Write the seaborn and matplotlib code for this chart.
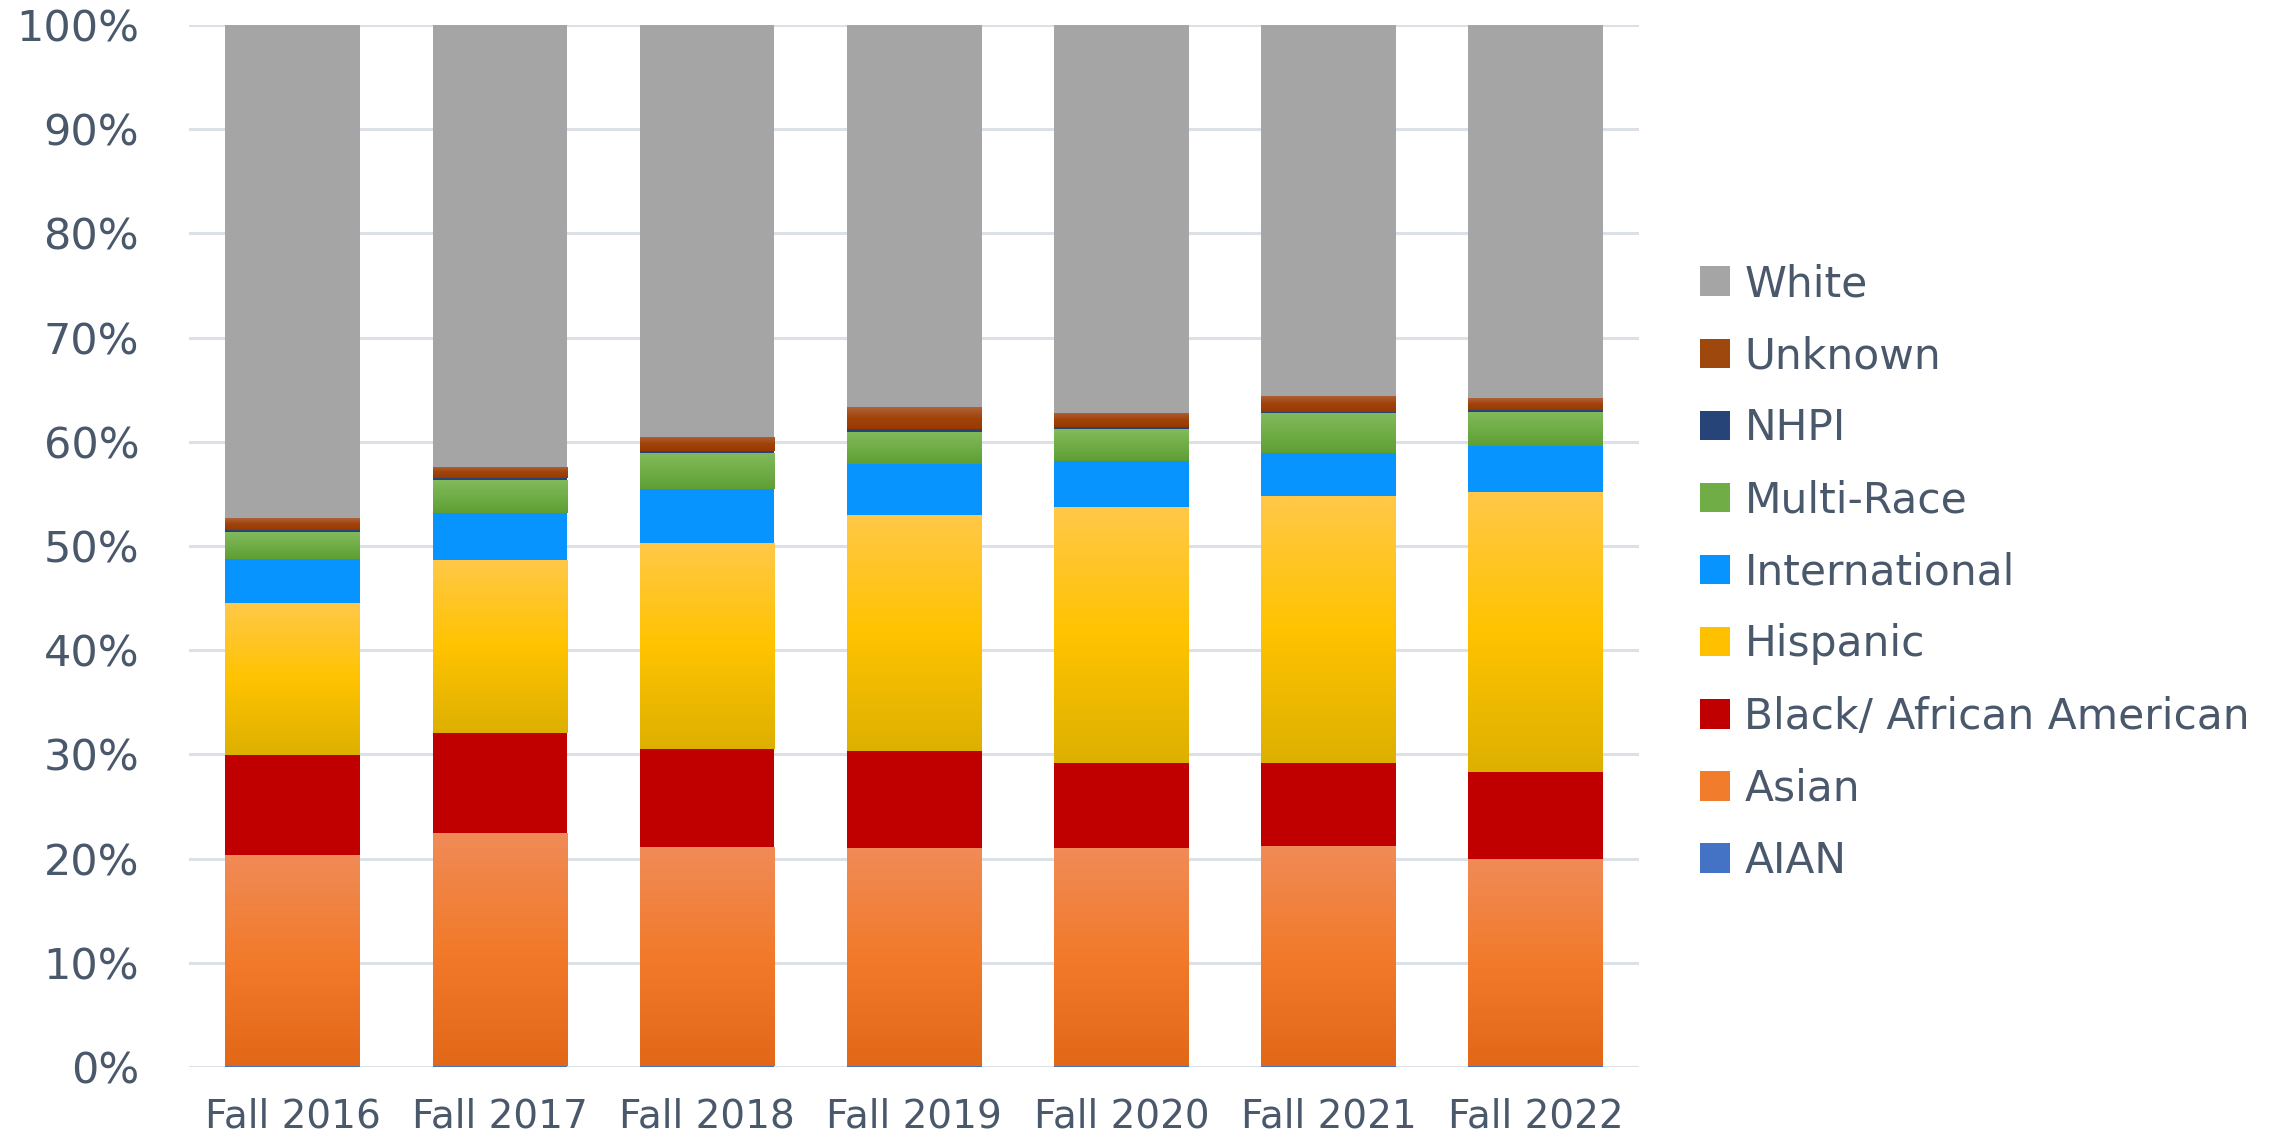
import numpy as np
import pandas as pd
import matplotlib
matplotlib.use("Agg")
import matplotlib.pyplot as plt
import seaborn as sns
from matplotlib.patches import Patch
from matplotlib.colors import LinearSegmentedColormap, to_rgba
from matplotlib.ticker import PercentFormatter

# Data (percent of enrollment by group)
terms = ["Fall 2016", "Fall 2017", "Fall 2018", "Fall 2019", "Fall 2020", "Fall 2021", "Fall 2022"]
groups = ["White", "Unknown", "NHPI", "Multi-Race", "International", "Hispanic",
          "Black/ African American", "Asian", "AIAN"]

aian = [0.1, 0.1, 0.1, 0.1, 0.1, 0.1, 0.1]
asian = [20.26, 22.35, 21.0, 20.9, 20.9, 21.15, 19.83]
black = [9.62, 9.62, 9.4, 9.28, 8.2, 7.95, 8.41]
hispanic = [14.56, 16.61, 19.83, 22.67, 24.56, 25.6, 26.86]
international = [4.26, 4.52, 5.17, 4.9, 4.44, 4.16, 4.36]
multi_race = [2.5, 3.14, 3.4, 3.11, 3.0, 3.79, 3.34]
nhpi = [0.2, 0.16, 0.25, 0.24, 0.2, 0.1, 0.2]
unknown = [1.15, 1.1, 1.35, 2.1, 1.4, 1.55, 1.1]
white = [47.35, 42.4, 39.5, 36.7, 37.2, 35.6, 35.8]

values = {
    "White": white, "Unknown": unknown, "NHPI": nhpi, "Multi-Race": multi_race,
    "International": international, "Hispanic": hispanic,
    "Black/ African American": black, "Asian": asian, "AIAN": aian,
}

df = pd.DataFrame([
    {"term": t, "group": g, "pct": values[g][i]}
    for g in groups for i, t in enumerate(terms)
])

palette = {
    "White": "#A5A5A5", "Unknown": "#9E480E", "NHPI": "#264478",
    "Multi-Race": "#70AD47", "International": "#0794FF", "Hispanic": "#FFC000",
    "Black/ African American": "#C00000", "Asian": "#F07C2C", "AIAN": "#4472C4",
}
# top, middle, bottom colours for the Excel-style gradient fills
gradients = {
    "Unknown": ("#B0623A", "#A0430A", "#983A00"),
    "Multi-Race": ("#82BA5C", "#70AD47", "#5E9F34"),
    "Hispanic": ("#FFC848", "#FFC300", "#DDB000"),
    "Asian": ("#F08B57", "#F27A2A", "#E26818"),
}

text_col = "#4A586C"

sns.set_style("white")
plt.rcParams["font.family"] = ["DejaVu Sans"]

fig = plt.figure(figsize=(22.8, 11.38), dpi=100)
ax = fig.add_axes([0.083, 0.0624, 0.636, 0.9156])

sns.histplot(data=df, x="term", hue="group", weights="pct", multiple="stack",
             discrete=True, shrink=0.65, hue_order=groups, palette=palette,
             alpha=1, linewidth=0, legend=False, ax=ax)

# gradient overlays clipped to each stacked segment
grad = np.linspace(0, 1, 256).reshape(-1, 1)
for p in list(ax.patches):
    fc = p.get_facecolor()
    for g, cols in gradients.items():
        if np.allclose(fc, to_rgba(palette[g]), atol=0.01):
            cmap = LinearSegmentedColormap.from_list(g, cols[::-1])
            x, y, w, h = p.get_x(), p.get_y(), p.get_width(), p.get_height()
            im = ax.imshow(grad, cmap=cmap, extent=(x, x + w, y, y + h),
                           origin="lower", aspect="auto", interpolation="bilinear",
                           zorder=p.get_zorder() + 0.1)
            im.set_clip_path(p)

ax.set_xlim(-0.5, len(terms) - 0.5)
ax.set_ylim(0, 100)
ax.set_yticks(np.arange(0, 101, 10))
ax.yaxis.set_major_formatter(PercentFormatter(decimals=0))
ax.set_xlabel("")
ax.set_ylabel("")
ax.set_axisbelow(True)
ax.yaxis.grid(True, color="#DCE1E8", linewidth=2.2)
ax.xaxis.grid(False)
sns.despine(ax=ax, left=True, bottom=True)
ax.tick_params(axis="y", length=0, pad=36, labelsize=31, labelcolor=text_col)
ax.tick_params(axis="x", length=0, pad=22, labelsize=28, labelcolor=text_col)

handles = [Patch(facecolor=palette[g], edgecolor="none") for g in groups]
leg = fig.legend(handles, groups, loc="center left", bbox_to_anchor=(1700 / 2280, 0.497),
                 frameon=False, fontsize=30.5, handlelength=0.7, handleheight=0.7,
                 handletextpad=0.35, labelspacing=0.71, borderpad=0, borderaxespad=0)
for t in leg.get_texts():
    t.set_color(text_col)

fig.savefig("out.png", dpi=100)
